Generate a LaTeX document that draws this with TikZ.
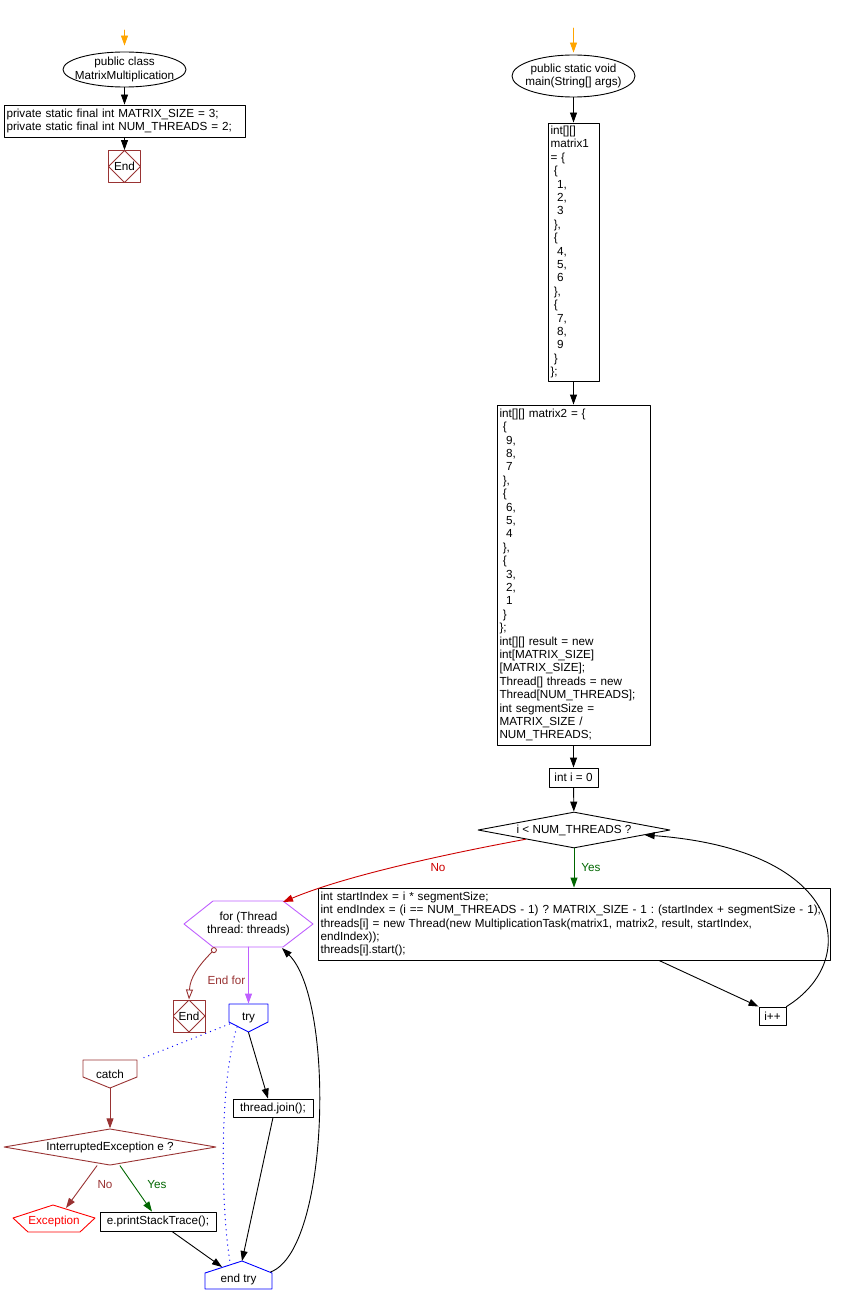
\documentclass[tikz,border=0pt]{standalone}
\usepackage{fontspec}
\setmainfont{Liberation Sans}
\usetikzlibrary{arrows.meta,shapes.geometric,calc}
\definecolor{startorange}{HTML}{FFA500}
\definecolor{norred}{HTML}{CC0000}
\definecolor{yesgreen}{HTML}{006600}
\definecolor{endbrown}{HTML}{993333}
\definecolor{forviolet}{HTML}{BF5FFF}
\definecolor{tryblue}{HTML}{0000FF}
\definecolor{excred}{HTML}{FF0000}
\newcommand{\ind}[1]{\hspace*{#1\fontdimen2\font}}
\frenchspacing

\begin{document}
\begin{tikzpicture}[line cap=round,line join=round,>={Triangle[length=10pt,width=7pt]},x=1pt,y=-1pt,line width=0.9pt,
    every node/.style={font=\fontsize{11.7}{13.4}\selectfont,inner sep=0pt},
    stmt/.style={draw,rectangle,align=left,inner xsep=2.5pt,inner ysep=2pt},
    entry/.style={draw,ellipse,align=center,inner xsep=-7pt,inner ysep=0pt},
    endmark/.style={draw=endbrown,minimum size=32pt,path picture={\draw[endbrown] (path picture bounding box.north) -- (path picture bounding box.east) -- (path picture bounding box.south) -- (path picture bounding box.west) -- cycle;}},
    decision/.style={draw,diamond,aspect=5,align=center},
    tryline/.style={tryblue,line width=1.3pt,dash pattern=on 0.1pt off 5pt}]
    \useasboundingbox (0,0) rectangle (854,1308);

    % class part
    \coordinate (start1) at (124.5,30);
    \node[entry,minimum width=123pt,minimum height=35pt] (classnode) at (124.5,69.5) {public class\\MatrixMultiplication};
    \node[stmt,text width=236pt,minimum height=32pt] (fields) at (124.5,121) {private static final int MATRIX\_SIZE = 3;\\private static final int NUM\_THREADS = 2;};
    \node[endmark] (end1) at (124.5,166.5) {End};

    % main
    \coordinate (start2) at (573.5,28);
    \node[entry,minimum width=123pt,minimum height=42pt] (mainnode) at (573.5,76) {public static void\\main(String[] args)};
    \node[stmt,text width=46pt,minimum height=258pt] (m1) at (573.5,252) {int[][]\\matrix1\\= \{\\\ind{1}\{\\\ind{2}1,\\\ind{2}2,\\\ind{2}3\\\ind{1}\},\\\ind{1}\{\\\ind{2}4,\\\ind{2}5,\\\ind{2}6\\\ind{1}\},\\\ind{1}\{\\\ind{2}7,\\\ind{2}8,\\\ind{2}9\\\ind{1}\}\\\};};
    \node[stmt,text width=148pt,minimum height=340pt] (m2) at (573.5,575) {int[][] matrix2 = \{\\\ind{1}\{\\\ind{2}9,\\\ind{2}8,\\\ind{2}7\\\ind{1}\},\\\ind{1}\{\\\ind{2}6,\\\ind{2}5,\\\ind{2}4\\\ind{1}\},\\\ind{1}\{\\\ind{2}3,\\\ind{2}2,\\\ind{2}1\\\ind{1}\}\\\};\\int[][] result = new\\int[MATRIX\_SIZE]\\{}[MATRIX\_SIZE];\\Thread[] threads = new\\Thread[NUM\_THREADS];\\int segmentSize =\\MATRIX\_SIZE /\\NUM\_THREADS;};
    \node[stmt,minimum width=49pt,minimum height=19pt] (initi) at (573.5,777.5) {int i = 0};
    \node[decision,minimum width=192pt,minimum height=36pt] (cond) at (574,830) {i < NUM\_THREADS ?};
    \node[stmt,text width=507pt,minimum height=72pt] (body) at (574,924) {int startIndex = i * segmentSize;\\int endIndex = (i == NUM\_THREADS - 1) ? MATRIX\_SIZE - 1 : (startIndex + segmentSize - 1);\\threads[i] = new Thread(new MultiplicationTask(matrix1, matrix2, result, startIndex,\\endIndex));\\threads[i].start();};
    \node[stmt,minimum width=27pt,minimum height=18pt] (inc) at (772.5,1016) {i++};
    \node[text=norred] (nolbl) at (438,868) {No};
    \node[text=yesgreen] (yeslbl) at (591,868) {Yes};

    % for loop
    \node[align=center,minimum width=129pt,minimum height=46pt] (forloop) at (248.5,924) {for (Thread\\thread: threads)};
    \draw[forviolet,shift={(forloop.center)}] (-64.5,0) -- (-35.5,-23) -- (34.5,-23) -- (64.5,0) -- (34.5,23) -- (-35.5,23) -- cycle;
    \coordinate (forNE) at ($(forloop)+(34.5,-22)$);
    \coordinate (forSE) at ($(forloop)+(33.5,24)$);
    \coordinate (forS) at ($(forloop)+(0,23)$);
    \coordinate (forSW) at ($(forloop)+(-32.5,24)$);
    \node[endmark] (end2) at (189,1016) {End};
    \node[text=endbrown] (endforlbl) at (226.5,980) {End for};

    % try / catch
    \node[minimum width=39pt,minimum height=28pt] (trynode) at (248.5,1018) {try};
    \draw[tryblue,shift={(trynode.center)}] (-19.5,-14) -- (19.5,-14) -- (19.5,4) -- (0,14) -- (-19.5,4) -- cycle;
    \coordinate (tryL) at ($(trynode)+(-19,6)$);
    \coordinate (tryL2) at ($(trynode)+(-11.5,9)$);
    \node[minimum width=54pt,minimum height=28pt] (catchnode) at (110,1074) {catch};
    \draw[endbrown,shift={(catchnode.center)}] (-27,-14) -- (27,-14) -- (27,3) -- (0,14) -- (-27,3) -- cycle;
    \coordinate (catchNE) at ($(catchnode)+(33,-16)$);
    \node[stmt,minimum width=80pt,minimum height=18pt] (join) at (273,1108) {thread.join();};
    \node[decision,endbrown,text=black,minimum width=212pt,minimum height=36pt] (excq) at (110,1147) {InterruptedException e ?};
    \node[text=excred,minimum width=82pt,minimum height=27pt] (exc) at (54,1221) {Exception};
    \draw[excred,shift={(exc.center)}] (-41,-3) -- (-1,-16) -- (41,-3) -- (26,11) -- (-26,11) -- cycle;
    \coordinate (excTop) at ($(exc)+(12,-13)$);
    \node[stmt,minimum width=116pt,minimum height=19pt] (print) at (158,1221.5) {e.printStackTrace();};
    \node[text=endbrown] (nolbl2) at (105,1185) {No};
    \node[text=yesgreen] (yeslbl2) at (157,1185) {Yes};
    \node[minimum width=67pt,minimum height=28pt] (endtry) at (238.5,1279) {end try};
    \draw[tryblue,shift={(endtry.center)}] (-33.5,-6) -- (3.5,-18) -- (33.5,-6) -- (33.5,10) -- (-33.5,10) -- cycle;
    \coordinate (endtop) at ($(endtry)+(3.5,-18)$);
    \coordinate (endtryL) at ($(endtry)+(-16.5,-12)$);
    \coordinate (endtryR) at ($(endtry)+(32,-7)$);
    \coordinate (dotend) at ($(endtry)+(-8.5,-17)$);

    % connectors
    \draw[->,startorange,shorten >=6pt] (start1) -- (classnode.north);
    \draw[->] (classnode) -- (fields);
    \draw[->] (fields) -- (end1);
    \draw[->,startorange,shorten >=2pt] (start2) -- (mainnode.north);
    \draw[->] (mainnode) -- (m1);
    \draw[->] (m1) -- (m2);
    \draw[->] (m2) -- (initi);
    \draw[->] (initi) -- (cond);
    \draw[->,yesgreen] (cond) -- (body);
    \draw[->,norred] (cond.south west) .. controls (430,857) and (340,878) .. (forNE);
    \draw[->] ([xshift=85pt]body.south) -- (inc.north west);
    \draw[->] (inc.north east) .. controls (862,960) and (845,850) .. (cond.-4);
    \draw[->,forviolet] (forS) -- (trynode.north);
    \draw[endbrown,{Circle[open,length=6pt]}-{Triangle[open,length=10pt,width=7pt]}] (forSW) .. controls (198,966) and (190,978) .. (end2.north);
    \draw[->] (trynode.south) -- ([xshift=-5pt]join.north);
    \draw[->] (join.south) -- (endtop);
    \draw[tryline] (tryL) -- (catchNE);
    \draw[tryline] (tryL2) .. controls (220,1080) and (220,1200) .. (dotend);
    \draw[->] (endtryR) .. controls (330,1250) and (335,1000) .. (forSE);
    \draw[->,endbrown] (catchnode.south) -- (excq.north);
    \draw[->,endbrown] ([xshift=-13pt]excq.south) -- (excTop);
    \draw[->,yesgreen] ([xshift=10pt]excq.south) -- ([xshift=-6pt]print.north);
    \draw[->] ([xshift=14pt]print.south) -- (endtryL);
\end{tikzpicture}
\end{document}
